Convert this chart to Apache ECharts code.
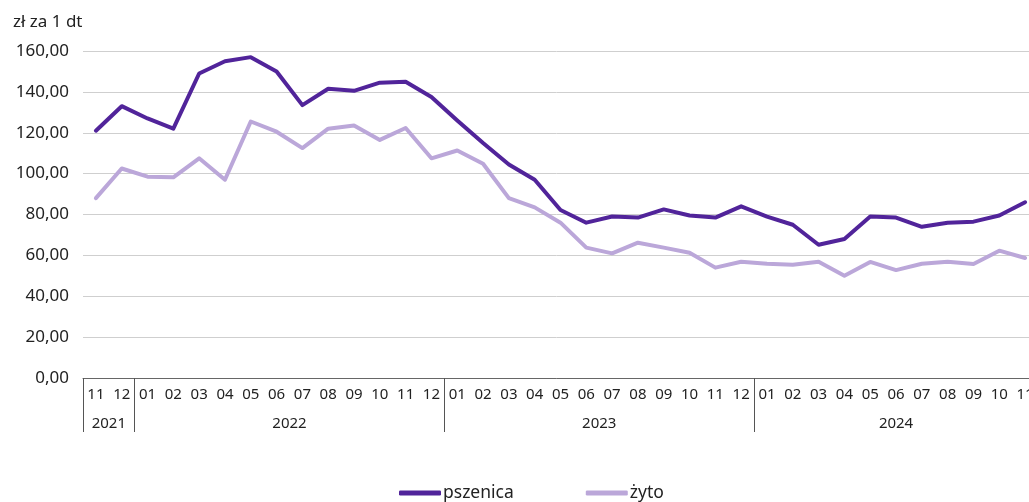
<!DOCTYPE html>
<html>
<head>
<meta charset="utf-8">
<script src="https://cdn.jsdelivr.net/npm/echarts@6/dist/echarts.min.js"></script>
<style>html,body{margin:0;padding:0;background:#fff}#c{width:1029px;height:502px}</style>
</head>
<body>
<div id="c"></div>
<script>
const months = ['11','12','01','02','03','04','05','06','07','08','09','10','11','12','01','02','03','04','05','06','07','08','09','10','11','12','01','02','03','04','05','06','07','08','09','10','11'];
const pszenica = [121,133,127,122,149,155,157,150,133.5,141.5,140.5,144.5,145,137.5,126,115,104.5,97,82.2,76,79,78.5,82.5,79.5,78.5,84,79,75,65.2,68,79,78.5,74,76,76.5,79.5,86];
const zyto = [88,102.5,98.5,98.2,107.5,97,125.5,120.5,112.5,122,123.5,116.5,122.3,107.5,111.3,104.8,88,83.5,76,63.8,61,66.2,63.8,61.3,54,56.9,55.9,55.4,56.9,50,56.8,52.8,55.9,56.9,55.8,62.3,58.7];
const yearLabels = ['2021','2022','2023','2024'];
const yearCenters = [1, 8, 20, 31.5];
const yearStarts = [0, 2, 14, 26];
const yTicks = [0,20,40,60,80,100,120,140,160];

const FONT = 'Noto Sans';
const chart = echarts.init(document.getElementById('c'), null, {renderer:'canvas'});
chart.setOption({
  animation: false,
  textStyle: {fontFamily: FONT, color: '#222'},
  title: {text: 'zł za 1 dt', left: 8, top: 9, textStyle: {fontFamily: FONT, fontSize: 17, fontWeight: 'normal', color: '#222'}},
  grid: {left: 83, right: -9, top: 51, bottom: 124, containLabel: false, outerBoundsMode: 'none'},
  legend: {
    left: 399, top: 484, padding: 0, itemGap: 72, itemWidth: 42, itemHeight: 5, icon: 'roundRect',
    textStyle: {fontFamily: FONT, fontSize: 17.5, color: '#222', padding: [0,0,0,-3]},
    data: ['pszenica','żyto']
  },
  xAxis: [
    {
      type: 'category', data: months, boundaryGap: true, position: 'bottom',
      axisLine: {show: true, lineStyle: {color: '#666', width: 1}},
      axisTick: {show: true, length: 54, lineStyle: {color: '#555', width: 1},
        interval: function (i) { return yearStarts.indexOf(i) >= 0; }},
      axisLabel: {interval: 0, fontSize: 15, color: '#222', margin: 9, fontFamily: FONT}
    },
    {
      type: 'value', min: 0, max: 37, interval: 0.5, position: 'bottom', offset: 29,
      axisLine: {show: false}, axisTick: {show: false}, splitLine: {show: false},
      axisLabel: {fontSize: 15, color: '#222', margin: 9, fontFamily: FONT,
        formatter: function (v) { const k = yearCenters.indexOf(v); return k >= 0 ? yearLabels[k] : ''; }}
    }
  ],
  yAxis: {
    type: 'value', min: yTicks[0], max: yTicks[yTicks.length-1], interval: 20,
    axisLine: {show: false}, axisTick: {show: false},
    splitLine: {lineStyle: {color: '#cfcfcf', width: 1}},
    axisLabel: {fontSize: 17, color: '#222', margin: 14, fontFamily: FONT,
      formatter: function (v) { return v.toFixed(2).replace('.', ','); }}
  },
  series: [
    {name: 'pszenica', type: 'line', data: pszenica, showSymbol: false, symbol: 'none',
      lineStyle: {color: '#51249a', width: 4, join: 'round', cap: 'round'}, itemStyle: {color: '#51249a'}},
    {name: 'żyto', type: 'line', data: zyto, showSymbol: false, symbol: 'none',
      lineStyle: {color: '#bba7d9', width: 4, join: 'round', cap: 'round'}, itemStyle: {color: '#bba7d9'}}
  ]
});
</script>
</body>
</html>
